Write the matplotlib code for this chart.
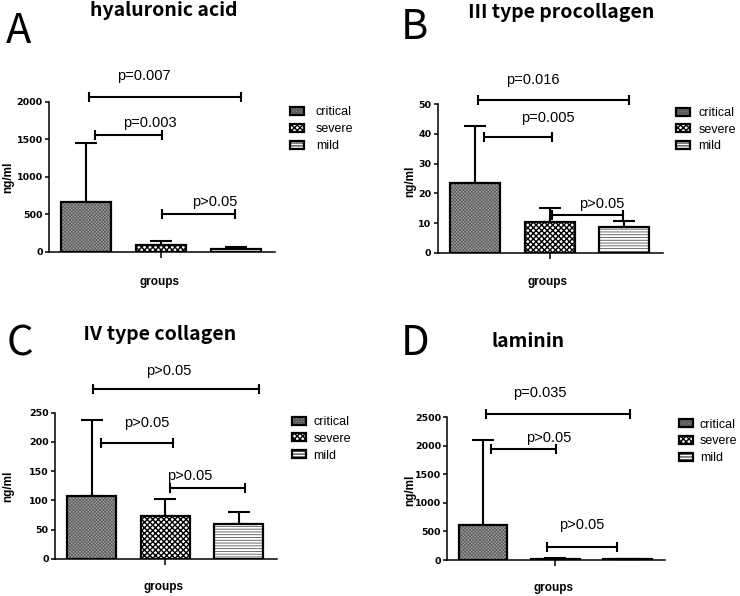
import matplotlib
matplotlib.use('Agg')
import matplotlib.pyplot as plt

groups = ['critical', 'severe', 'mild']
hatches = ['x' * 10, 'x' * 6, '-' * 6]
faces = ['#a0a0a0', 'white', 'white']
hatch_colors = ['#5a5a5a', 'black', '#555555']
hatch_lws = [0.5, 1.0, 0.6]

titles = ['hyaluronic acid', 'Ⅲ type procollagen', 'Ⅳ type collagen', 'laminin']
letters = ['A', 'B', 'C', 'D']

# mean and upper error (ng/ml)
ha_mean = [670, 90, 45]
ha_sd = [780, 60, 25]
pc3_mean = [23.5, 10.5, 8.6]
pc3_sd = [19.2, 4.6, 2.1]
c4_mean = [108, 74, 60]
c4_sd = [129, 29, 20]
ln_mean = [610, 20, 10]
ln_sd = [1500, 8, 5]

ha_ticks = [0, 500, 1000, 1500, 2000]
pc3_ticks = [0, 10, 20, 30, 40, 50]
c4_ticks = [0, 50, 100, 150, 200, 250]
ln_ticks = [0, 500, 1000, 1500, 2000, 2500]

# brackets: x from, x to, y, label, label x, label y
ha_brk = [(0.03, 2.07, 2070, 'p=0.007', 0.77, 2347),
          (0.12, 1.01, 1560, 'p=0.003', 0.85, 1720),
          (1.01, 1.99, 507, 'p>0.05', 1.71, 660)]
pc3_brk = [(0.04, 2.07, 51.3, 'p=0.016', 0.78, 58.0),
           (0.12, 1.03, 39.0, 'p=0.005', 0.97, 45.4),
           (1.03, 1.99, 12.75, 'p>0.05', 1.70, 16.5)]
c4_brk = [(0.02, 2.28, 290, 'p>0.05', 1.05, 320.7),
          (0.13, 1.11, 199, 'p>0.05', 0.75, 232.7),
          (1.07, 2.08, 121, 'p>0.05', 1.33, 141.8)]
ln_brk = [(0.03, 2.03, 2560, 'p=0.035', 0.78, 2929),
          (0.11, 1.01, 1940, 'p>0.05', 0.91, 2132),
          (0.89, 1.85, 233, 'p>0.05', 1.37, 608)]

panels = [(ha_mean, ha_sd, ha_ticks, ha_brk),
          (pc3_mean, pc3_sd, pc3_ticks, pc3_brk),
          (c4_mean, c4_sd, c4_ticks, c4_brk),
          (ln_mean, ln_sd, ln_ticks, ln_brk)]

W, H = 740, 596
# axes boxes in pixels: left, right, top, bottom
boxes = [(49, 275, 102, 252), (437.7, 663, 104, 253),
         (55, 277, 412.7, 559), (447.3, 665, 417.3, 560)]
letter_pos = [(6, 43), (401, 39.3), (7, 355.5), (401, 355)]
title_pos = [(164, 15.7), (561, 18.3), (159.3, 340), (528, 346.7)]
ylab_pos = [(-0.181, 0.5), (-0.123, 0.478), (-0.212, 0.494), (-0.171, 0.49)]
xlab_pos = [(0.487, -0.198), (0.488, -0.197), (0.488, -0.193), (0.489, -0.198)]
leg_pos = [(1.066, 0.97, 0.96), (1.058, 0.98, 0.67), (1.066, 0.977, 0.62), (1.064, 0.99, 0.56)]

fig = plt.figure(figsize=(W / 100, H / 100), dpi=100)
x = [0, 1, 2]

for i, (mean, sd, ticks, brk) in enumerate(panels):
    l, r, t, b = boxes[i]
    ax = fig.add_axes([l / W, 1 - b / H, (r - l) / W, (b - t) / H])
    fills = []
    for j in range(3):
        with plt.rc_context({'hatch.color': hatch_colors[j],
                             'hatch.linewidth': hatch_lws[j]}):
            c = ax.bar(x[j], mean[j], width=0.67, color=faces[j],
                       hatch=hatches[j], zorder=2)
        fills.append(c.patches[0])
    outline = ax.bar(x, mean, width=0.67, fill=False, edgecolor='black',
                     linewidth=1.6, zorder=3)
    ax.errorbar(x, mean, yerr=[[0, 0, 0], sd], fmt='none', ecolor='black',
                elinewidth=1.5, capsize=8, capthick=1.5, zorder=1)
    for x0, x1, yb, lab, tx, ty in brk:
        ax.plot([x0, x1], [yb, yb], color='black', lw=1.5, clip_on=False)
        ax.plot([x0, x1], [yb, yb], ls='none', marker='|', ms=7, mew=1.5,
                color='black', clip_on=False)
        ax.text(tx, ty, lab, ha='center', va='center', fontsize=10.5,
                family='Liberation Sans')
    ax.set_xlim(-0.5, 2.52)
    ax.set_ylim(0, ticks[-1])
    ax.set_yticks(ticks)
    ax.set_xticks([1])
    ax.set_xticklabels([''])
    for s in ['top', 'right']:
        ax.spines[s].set_visible(False)
    for s in ['left', 'bottom']:
        ax.spines[s].set_linewidth(1.1)
    ax.tick_params(axis='y', length=3, width=1.1, pad=1.5)
    ax.tick_params(axis='x', length=4, width=1.1)
    for lb in ax.get_yticklabels():
        lb.set_family('DejaVu Sans')
        lb.set_fontweight('bold')
        lb.set_fontsize(6.8)
    ax.set_ylabel('ng/ml', fontsize=8.5, fontweight='bold',
                  family='Liberation Sans', va='center')
    ax.yaxis.set_label_coords(*ylab_pos[i])
    ax.set_xlabel('groups', fontsize=8.5, fontweight='bold',
                  family='Liberation Sans', va='center')
    ax.xaxis.set_label_coords(*xlab_pos[i])
    lx, ly, pad = leg_pos[i]
    handles = [(f, o) for f, o in zip(fills, outline.patches)]
    ax.legend(handles, groups, loc='upper left', bbox_to_anchor=(lx, ly),
              frameon=False, borderpad=0, borderaxespad=0,
              handlelength=1.12, handleheight=0.6, handletextpad=pad,
              labelspacing=0.38, prop={'family': 'Liberation Sans', 'size': 9})

    fig.text(letter_pos[i][0] / W, 1 - letter_pos[i][1] / H, letters[i],
             fontsize=30, family=['Noto Sans CJK KR', 'DejaVu Sans'],
             ha='left', va='baseline')
    fig.text(title_pos[i][0] / W, 1 - title_pos[i][1] / H, titles[i],
             fontsize=14, fontweight='bold',
             family=['Noto Sans CJK KR', 'DejaVu Sans'],
             ha='center', va='baseline')

fig.savefig('out.png', dpi=100)
